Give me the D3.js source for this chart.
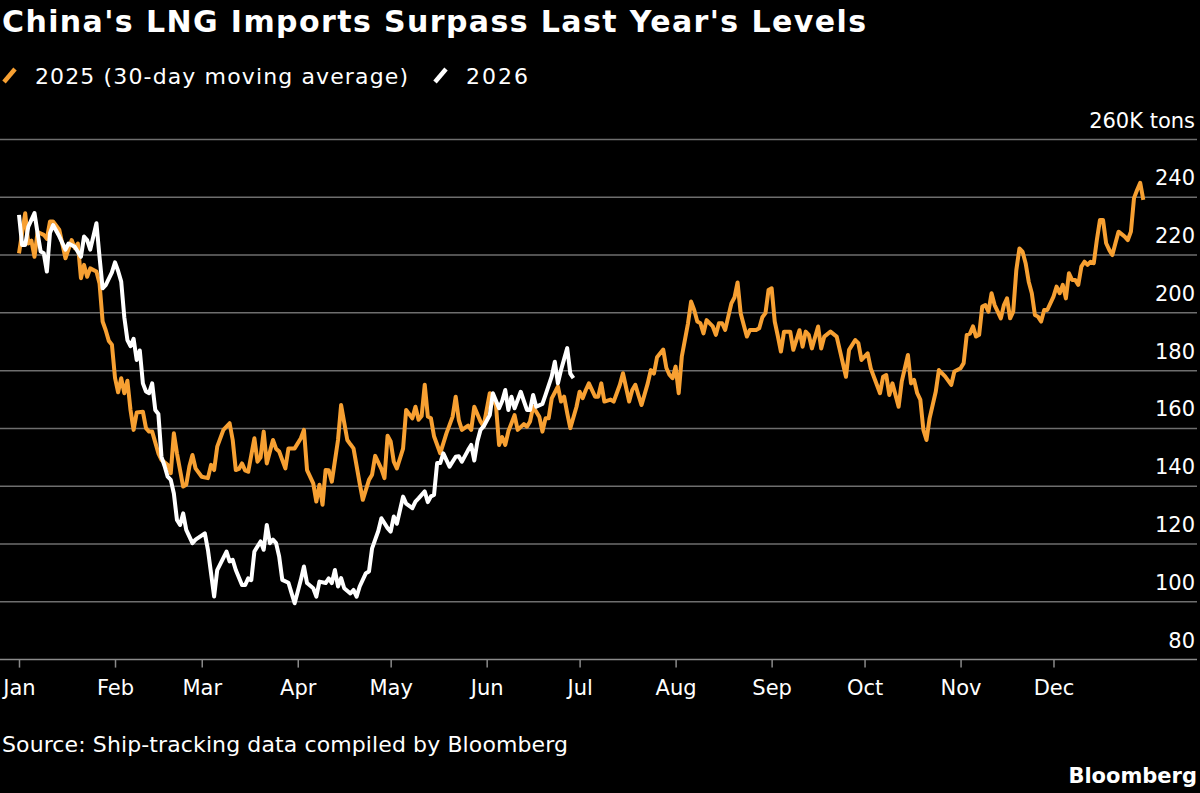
<!DOCTYPE html>
<html>
<head>
<meta charset="utf-8">
<script src="https://cdn.jsdelivr.net/npm/d3@7"></script>
<style>
  html, body { margin: 0; padding: 0; background: #000; }
  svg { display: block; }
  text { font-family: "DejaVu Sans", sans-serif; fill: #fff; }
</style>
</head>
<body>
<svg id="chart"></svg>
<script>
// Chart data
const monthLabels = ['Jan', 'Feb', 'Mar', 'Apr', 'May', 'Jun', 'Jul', 'Aug', 'Sep', 'Oct', 'Nov', 'Dec'];
const yTicks = [80, 100, 120, 140, 160, 180, 200, 220, 240, 260];

// 2025, 30-day moving average: day of year (0 = Jan 1) and thousand tons
const days2025 = [0, 2, 3, 4, 5, 6, 8, 9, 10, 11, 13, 15, 17, 18, 19, 20, 21, 22, 23, 25, 26, 27, 28, 29, 30,
  31, 32, 33, 34, 35, 36, 37, 38, 40, 41, 42, 43, 45, 46, 48, 49, 50, 51, 52, 53, 54, 55, 56, 57, 59,
  61, 62, 63, 64, 66, 68, 69, 70, 71, 72, 73, 74, 76, 77, 78, 79, 80, 82, 83, 84, 86, 87, 89, 91, 92,
  93, 95, 96, 97, 98, 99, 100, 101, 103, 104, 106, 107, 108, 110, 111, 113, 114, 115, 117, 118, 119, 120, 121, 122, 124,
  125, 127, 128, 129, 130, 131, 132, 133, 134, 136, 138, 140, 141, 142, 143, 145, 146, 147, 149, 150,
  152, 154, 155, 156, 157, 158, 160, 161, 163, 164, 165, 166, 168, 169, 170, 171, 172, 174, 175, 176,
  177, 178, 180, 181, 182, 183, 184, 186, 187, 188, 189, 191, 192, 194, 195, 197, 198, 199, 200, 201,
  203, 204, 205, 206, 208, 209, 210, 211, 212, 213, 214, 216, 217, 218, 219, 220, 221, 222, 224, 225,
  226, 227, 228, 230, 231, 232, 233, 234, 235, 236, 238, 239, 240, 241, 242, 243, 244, 245, 246, 247,
  249, 250, 252, 253, 254, 255, 256, 258, 259, 260, 262, 264, 265, 267, 268, 270, 271, 272, 274, 275,
  276, 278, 279, 280, 281, 282, 284, 285, 287, 288, 289, 290, 291, 292, 293, 294, 296, 297, 299, 301,
  302, 304, 305, 306, 307, 308, 309, 310, 311, 312, 313, 314, 315, 316, 317, 318, 319, 320, 321, 322,
  323, 324, 325, 326, 327, 328, 329, 330, 331, 332, 334, 335, 336, 337, 338, 339, 340, 341, 342, 343,
  344, 345, 346, 347, 348, 349, 350, 351, 352, 353, 354, 355, 357, 358, 359, 360, 361, 362, 363];
const values2025 = [220.6, 234.5, 224, 225, 219.4, 228, 227, 225.6, 231.6, 231.6, 228.8, 218.9, 225.2, 222.4, 224, 212, 216.6, 212.5, 215.4, 214.3, 210.2, 197, 194, 190.3, 189,
  177.5, 172.5, 177.4, 172.2, 176.5, 166.4, 159.5, 165.5, 165.8, 160.1, 158.9, 158.9, 151.4, 149.1, 147.4, 144.5, 158.3, 151.4, 145.6, 139.9, 140.5, 146.8, 150.8, 146.2, 143.3,
  142.8, 147.4, 145.6, 153.7, 159.5, 161.8, 156, 145.6, 146, 147.9, 145.5, 145, 156.6, 148.5, 150, 158.9, 147.9, 156, 153, 152, 146.2, 153.1, 153.1, 156.6, 159.5,
  145.6, 141, 134.7, 140.5, 133.6, 145.6, 145.5, 141.6, 156, 168.1, 156, 154.5, 153.1, 141, 135.3, 142.2, 144, 150.5, 146, 142.8, 157.5, 155.5, 148.5, 146.2, 153,
  166.4, 163.5, 167.5, 163, 164.3, 175.1, 164.1, 163.5, 157.3, 151.4, 158.3, 164.1, 171, 162.9, 159.5, 161, 159.5, 167.5, 162.4, 160.7,
  172.2, 168, 154.3, 157, 154.3, 159, 164.6, 159.5, 161.5, 160.6, 162.4, 167.5, 164, 158.9, 163.5, 163.5, 170.4, 174.5, 169.3, 171,
  165.3, 160.1, 167.5, 172.7, 170.5, 173.3, 175.6, 171, 171, 175.6, 169.3, 170, 169.3, 175.1, 179.1, 169.3, 173.3, 175.1, 171.5, 168.1,
  175.6, 180.2, 179, 184.6, 187.3, 181, 178.6, 177.4, 181.4, 172.2, 184.9, 196.4, 203.9, 201, 197, 196.4, 192.9, 197.5, 195.3, 192.4,
  196.4, 196.4, 194.1, 203.3, 205.3, 210.5, 199.9, 195.8, 191.8, 194.1, 194.1, 194.7, 198.5, 199.9, 207.9, 208.5, 197, 192, 186.6, 193.5,
  193.5, 187.2, 194, 188.3, 193.5, 192.4, 187.7, 195.3, 187.7, 191.8, 193.5, 191.8, 187.2, 177.9, 187.2, 190.6, 189.5, 183.7, 186, 180.8,
  177.9, 172.2, 177.9, 178.5, 171.6, 175.6, 167.5, 176.2, 185.4, 175.6, 176.8, 172.2, 170, 159.5, 156, 163.5, 172.8, 180.2, 178, 175.1,
  179.7, 180.8, 182.6, 192.4, 192.8, 195.3, 191.8, 192.4, 202.2, 202.7, 200.4, 206.8, 202.7, 200.4, 198.1, 202.7, 205, 198.1, 200.4, 214.8,
  222.3, 221.2, 217.2, 210.8, 206.8, 199.3, 198.7, 197, 201, 201, 205.6, 209.1, 206.8, 209.7, 205, 213.7, 211.4, 211.4, 209.7, 216,
  217.7, 216.6, 217.7, 217.2, 225.2, 232.1, 232.1, 224.1, 221.8, 220, 224.1, 228.1, 226.4, 225.2, 228.1, 239.7, 242.5, 245, 239.1];

// 2026, daily to late June
const days2026 = [0, 1, 2, 3, 5, 6, 7, 8, 9, 10, 11, 13, 15, 16, 18, 20, 21, 22, 23, 25, 26, 27, 28, 30, 31,
  32, 33, 34, 35, 36, 37, 38, 39, 40, 41, 42, 43, 44, 45, 46, 47, 48, 49, 50, 51, 52, 53, 54, 56, 57,
  60, 61, 63, 64, 67, 68, 69, 70, 72, 73, 74, 75, 76, 78, 79, 80, 81, 82, 83, 84, 85, 87, 88, 89, 91,
  92, 93, 95, 96, 97, 99, 100, 101, 102, 103, 104, 105, 107, 108, 109, 110, 112, 113, 114, 115, 116, 117, 119, 120, 121,
  122, 124, 125, 127, 128, 129, 131, 132, 133, 134, 135, 136, 137, 139, 141, 142, 143, 145, 146, 147,
  148, 149, 150, 152, 153, 155, 156, 157, 158, 159, 160, 162, 163, 164, 165, 166, 167, 169, 170, 172,
  173, 174, 175, 176, 177, 178, 179];
const values2026 = [233.9, 223.5, 223.5, 229.8, 234.5, 227.6, 221.2, 220.6, 214.3, 227.6, 230.4, 226.5, 221.9, 224, 222.9, 219.4, 226.4, 225.2, 221.9, 231, 219.4, 208.5, 209.6, 214, 217.5,
  214.5, 210.8, 198.5, 190.6, 188.5, 191, 183.7, 187, 175.6, 172.8, 172.2, 175.6, 166.4, 165, 150.2, 147, 143.3, 142.2, 137.5, 128.3, 126.6, 130.6, 124.9, 120.3, 121.5,
  123.7, 118, 101.8, 111, 117.4, 114, 114.5, 111, 105.8, 105.8, 108.1, 107.5, 117.4, 120.9, 118, 126.6, 120.3, 121.5, 120.3, 115.7, 107.6, 106.6, 103, 99.5, 107.6,
  112.2, 106.5, 104.7, 101.8, 107, 106.5, 108.1, 106.5, 111, 105.3, 108.2, 104.7, 102.9, 104.1, 101.8, 105.3, 109.9, 110.5, 118.5, 121.5, 124.5, 128.9, 125.5, 124.3, 129.5,
  127, 136.4, 134, 132.4, 134.7, 135.8, 138.2, 134.5, 136.5, 137, 148, 148, 151.4, 146.8, 150.2, 150.4, 148.5, 152.5, 154.3, 148.9,
  155.5, 159.5, 160.7, 164.6, 172.2, 167, 169.5, 173.3, 166.4, 171, 167, 172.7, 169.5, 166.4, 166.4, 171.6, 167.5, 168.5, 171.6, 178,
  183.1, 175.6, 180.2, 184, 187.8, 179, 177.4];

const width = 1200;
const height = 793;
const orange = '#f7a032';
const gridColor = '#6e6e6e';

const toDate = (d) => new Date(2025, 0, 1 + d);
const series2025 = days2025.map((d, i) => ({ date: toDate(d), value: values2025[i] }));
const series2026 = days2026.map((d, i) => ({ date: toDate(d), value: values2026[i] }));

const svg = d3.select('#chart').attr('width', width).attr('height', height);
svg.append('rect').attr('width', width).attr('height', height).attr('fill', '#000');

// Scales
const x = d3.scaleTime()
  .domain([new Date(2025, 0, 1), new Date(2026, 0, 1)])
  .range([19, 1149.5]);
const y = d3.scaleLinear().domain([80, 260]).range([659.6, 139.5]);

// Title + legend
svg.append('text')
  .attr('x', 2).attr('y', 31.5)
  .attr('font-size', 30).attr('font-weight', 'bold')
  .attr('textLength', 864).attr('lengthAdjust', 'spacing')
  .text("China's LNG Imports Surpass Last Year's Levels");

const legend = svg.append('g');
const legendItems = [
  { label: '2025 (30-day moving average)', color: orange, x: 2, width: 373 },
  { label: '2026', color: '#fff', x: 433, width: 62 }
];
legendItems.forEach(item => {
  legend.append('line')
    .attr('x1', item.x + 2).attr('y1', 82)
    .attr('x2', item.x + 13).attr('y2', 69)
    .attr('stroke', item.color).attr('stroke-width', 4.5);
  legend.append('text')
    .attr('x', item.x + 33).attr('y', 84)
    .attr('font-size', 22)
    .attr('textLength', item.width).attr('lengthAdjust', 'spacing')
    .text(item.label);
});

// Gridlines + y labels
const grid = svg.append('g');
grid.selectAll('line')
  .data(yTicks)
  .enter()
  .append('line')
  .attr('x1', 0).attr('x2', 1197)
  .attr('y1', d => y(d)).attr('y2', d => y(d))
  .attr('stroke', d => d === 80 ? '#8a8a8a' : gridColor)
  .attr('stroke-width', 1.5);

grid.selectAll('text')
  .data(yTicks)
  .enter()
  .append('text')
  .attr('x', 1195)
  .attr('y', d => y(d) - 12)
  .attr('text-anchor', 'end')
  .attr('font-size', 21)
  .text(d => d === 260 ? '260K tons' : d);

// X axis
const xAxis = d3.axisBottom(x)
  .ticks(d3.timeMonth.every(1))
  .tickFormat(d => monthLabels[d.getMonth()])
  .tickSize(8)
  .tickPadding(12);

const xAxisGroup = svg.append('g')
  .attr('transform', `translate(0, ${y(80)})`)
  .call(xAxis);
xAxisGroup.select('.domain').remove();
xAxisGroup.selectAll('.tick').filter(d => d.getFullYear() > 2025).remove();
xAxisGroup.selectAll('.tick line').attr('stroke', '#8a8a8a').attr('stroke-width', 1.5);
xAxisGroup.selectAll('.tick text')
  .attr('fill', '#fff')
  .attr('font-size', 21)
  .attr('font-family', '"DejaVu Sans", sans-serif');

// Lines
const line = d3.line()
  .x(d => x(d.date))
  .y(d => y(d.value));

svg.append('path')
  .datum(series2025)
  .attr('d', line)
  .attr('fill', 'none')
  .attr('stroke', orange)
  .attr('stroke-width', 4)
  .attr('stroke-linejoin', 'round');

svg.append('path')
  .datum(series2026)
  .attr('d', line)
  .attr('fill', 'none')
  .attr('stroke', '#fff')
  .attr('stroke-width', 4)
  .attr('stroke-linejoin', 'round');

// Footer
svg.append('text')
  .attr('x', 2).attr('y', 752)
  .attr('font-size', 22)
  .attr('textLength', 566).attr('lengthAdjust', 'spacing')
  .text('Source: Ship-tracking data compiled by Bloomberg');

svg.append('text')
  .attr('x', 1197).attr('y', 783)
  .attr('text-anchor', 'end')
  .attr('font-size', 21).attr('font-weight', 'bold')
  .text('Bloomberg');
</script>
</body>
</html>
